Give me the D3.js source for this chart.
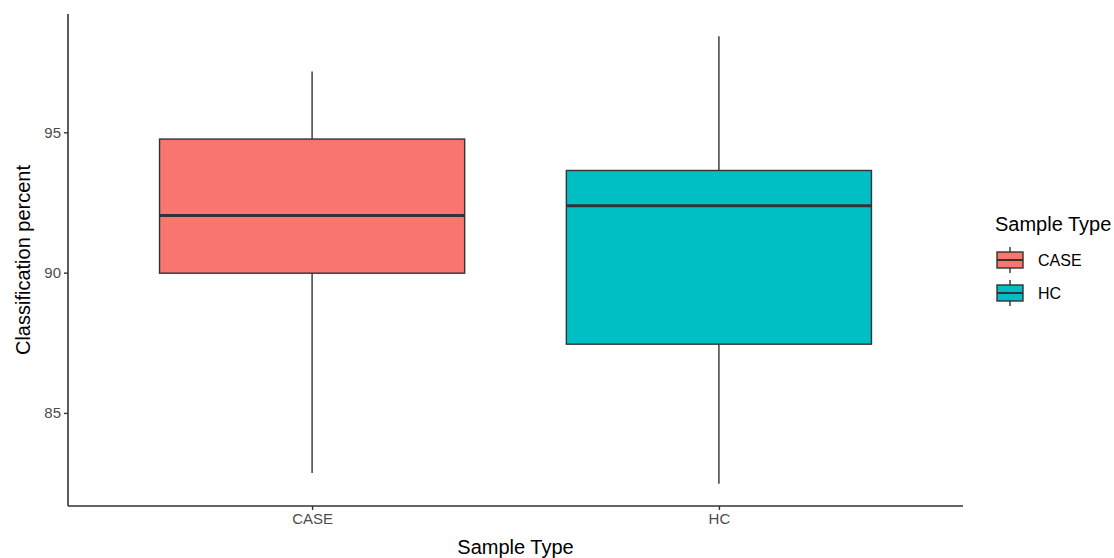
<!DOCTYPE html>
<html>
<head>
<meta charset="utf-8">
<script src="https://cdn.jsdelivr.net/npm/d3@7"></script>
<style>
  body { margin: 0; background: #fff; }
  text { font-family: "Liberation Sans", Arial, sans-serif; }
</style>
</head>
<body>
<div id="chart"></div>
<script>
const categories = ["CASE", "HC"];
const whiskerLow = [82.86, 82.48];
const q1 = [89.98, 87.45];
const median = [92.04, 92.38];
const q3 = [94.76, 93.64];
const whiskerHigh = [97.17, 98.42];
const colors = ["#F8766D", "#00BFC4"];
const yTicks = [85, 90, 95];

const width = 1114;
const height = 558;
const margin = { top: 14, right: 151, bottom: 52, left: 68 };

const svg = d3.select("#chart")
    .append("svg")
    .attr("width", width)
    .attr("height", height);

const data = categories.map((c, i) => ({
    cat: c, lo: whiskerLow[i], q1: q1[i], med: median[i], q3: q3[i], hi: whiskerHigh[i], color: colors[i]
}));

// discrete scale with ggplot-like 0.6 expansion on each side
const x = d3.scalePoint()
    .domain(categories)
    .range([margin.left, width - margin.right])
    .padding(0.6);
const step = x.step();
const boxW = step * 0.75;

const yMin = d3.min(whiskerLow), yMax = d3.max(whiskerHigh);
const pad = (yMax - yMin) * 0.05;
const y = d3.scaleLinear()
    .domain([yMin - pad, yMax + pad])
    .range([height - margin.bottom, margin.top]);

const boxes = svg.append("g")
    .selectAll("g")
    .data(data)
    .join("g");

boxes.append("line")
    .attr("x1", d => x(d.cat)).attr("x2", d => x(d.cat))
    .attr("y1", d => y(d.hi)).attr("y2", d => y(d.q3))
    .attr("stroke", "#333333").attr("stroke-width", 1.4);

boxes.append("line")
    .attr("x1", d => x(d.cat)).attr("x2", d => x(d.cat))
    .attr("y1", d => y(d.q1)).attr("y2", d => y(d.lo))
    .attr("stroke", "#333333").attr("stroke-width", 1.4);

boxes.append("rect")
    .attr("x", d => x(d.cat) - boxW / 2)
    .attr("width", boxW)
    .attr("y", d => y(d.q3))
    .attr("height", d => y(d.q1) - y(d.q3))
    .attr("fill", d => d.color)
    .attr("stroke", "#333333")
    .attr("stroke-width", 1.4);

boxes.append("line")
    .attr("x1", d => x(d.cat) - boxW / 2).attr("x2", d => x(d.cat) + boxW / 2)
    .attr("y1", d => y(d.med)).attr("y2", d => y(d.med))
    .attr("stroke", "#333333").attr("stroke-width", 3);

// axes
const xAxis = svg.append("g")
    .attr("transform", `translate(0,${height - margin.bottom})`)
    .call(d3.axisBottom(x).tickSize(4).tickPadding(3));
const yAxis = svg.append("g")
    .attr("transform", `translate(${margin.left},0)`)
    .call(d3.axisLeft(y).tickValues(yTicks).tickSize(4).tickPadding(3));

[xAxis, yAxis].forEach(ax => {
    ax.select(".domain").attr("stroke", "#333333").attr("stroke-width", 1.6);
    ax.selectAll(".tick line").attr("stroke", "#333333").attr("stroke-width", 1.4);
    ax.selectAll(".tick text")
        .attr("fill", "#4d4d4d")
        .style("font-size", "15px")
        .style("font-family", "Liberation Sans, Arial, sans-serif");
});
// keep the domains flat (no outer ticks)
xAxis.select(".domain").attr("d", `M${margin.left},0H${width - margin.right}`);
yAxis.select(".domain").attr("d", `M0,${margin.top}V${height - margin.bottom}`);

svg.append("text")
    .attr("x", (margin.left + width - margin.right) / 2)
    .attr("y", height - 4)
    .attr("text-anchor", "middle")
    .attr("fill", "#000")
    .style("font-size", "20px")
    .text("Sample Type");

svg.append("text")
    .attr("transform", "rotate(-90)")
    .attr("x", -(margin.top + height - margin.bottom) / 2)
    .attr("y", 30)
    .attr("text-anchor", "middle")
    .attr("fill", "#000")
    .style("font-size", "20px")
    .text("Classification percent");

// legend
const legend = svg.append("g").attr("transform", "translate(995,0)");
legend.append("text")
    .attr("x", 0).attr("y", 231)
    .attr("fill", "#000")
    .style("font-size", "20px")
    .text("Sample Type");

const keys = legend.selectAll("g.key")
    .data(data)
    .join("g")
    .attr("class", "key")
    .attr("transform", (d, i) => `translate(2,${260 + i * 33})`);

keys.append("line")
    .attr("x1", 13).attr("x2", 13).attr("y1", -13).attr("y2", 13)
    .attr("stroke", "#333333").attr("stroke-width", 1.4);
keys.append("rect")
    .attr("x", 0).attr("y", -8).attr("width", 26).attr("height", 16)
    .attr("fill", d => d.color)
    .attr("stroke", "#333333").attr("stroke-width", 1.4);
keys.append("line")
    .attr("x1", 0).attr("x2", 26).attr("y1", 0).attr("y2", 0)
    .attr("stroke", "#333333").attr("stroke-width", 2);
keys.append("text")
    .attr("x", 41).attr("y", 6)
    .attr("fill", "#000")
    .style("font-size", "16px")
    .text(d => d.cat);
</script>
</body>
</html>
